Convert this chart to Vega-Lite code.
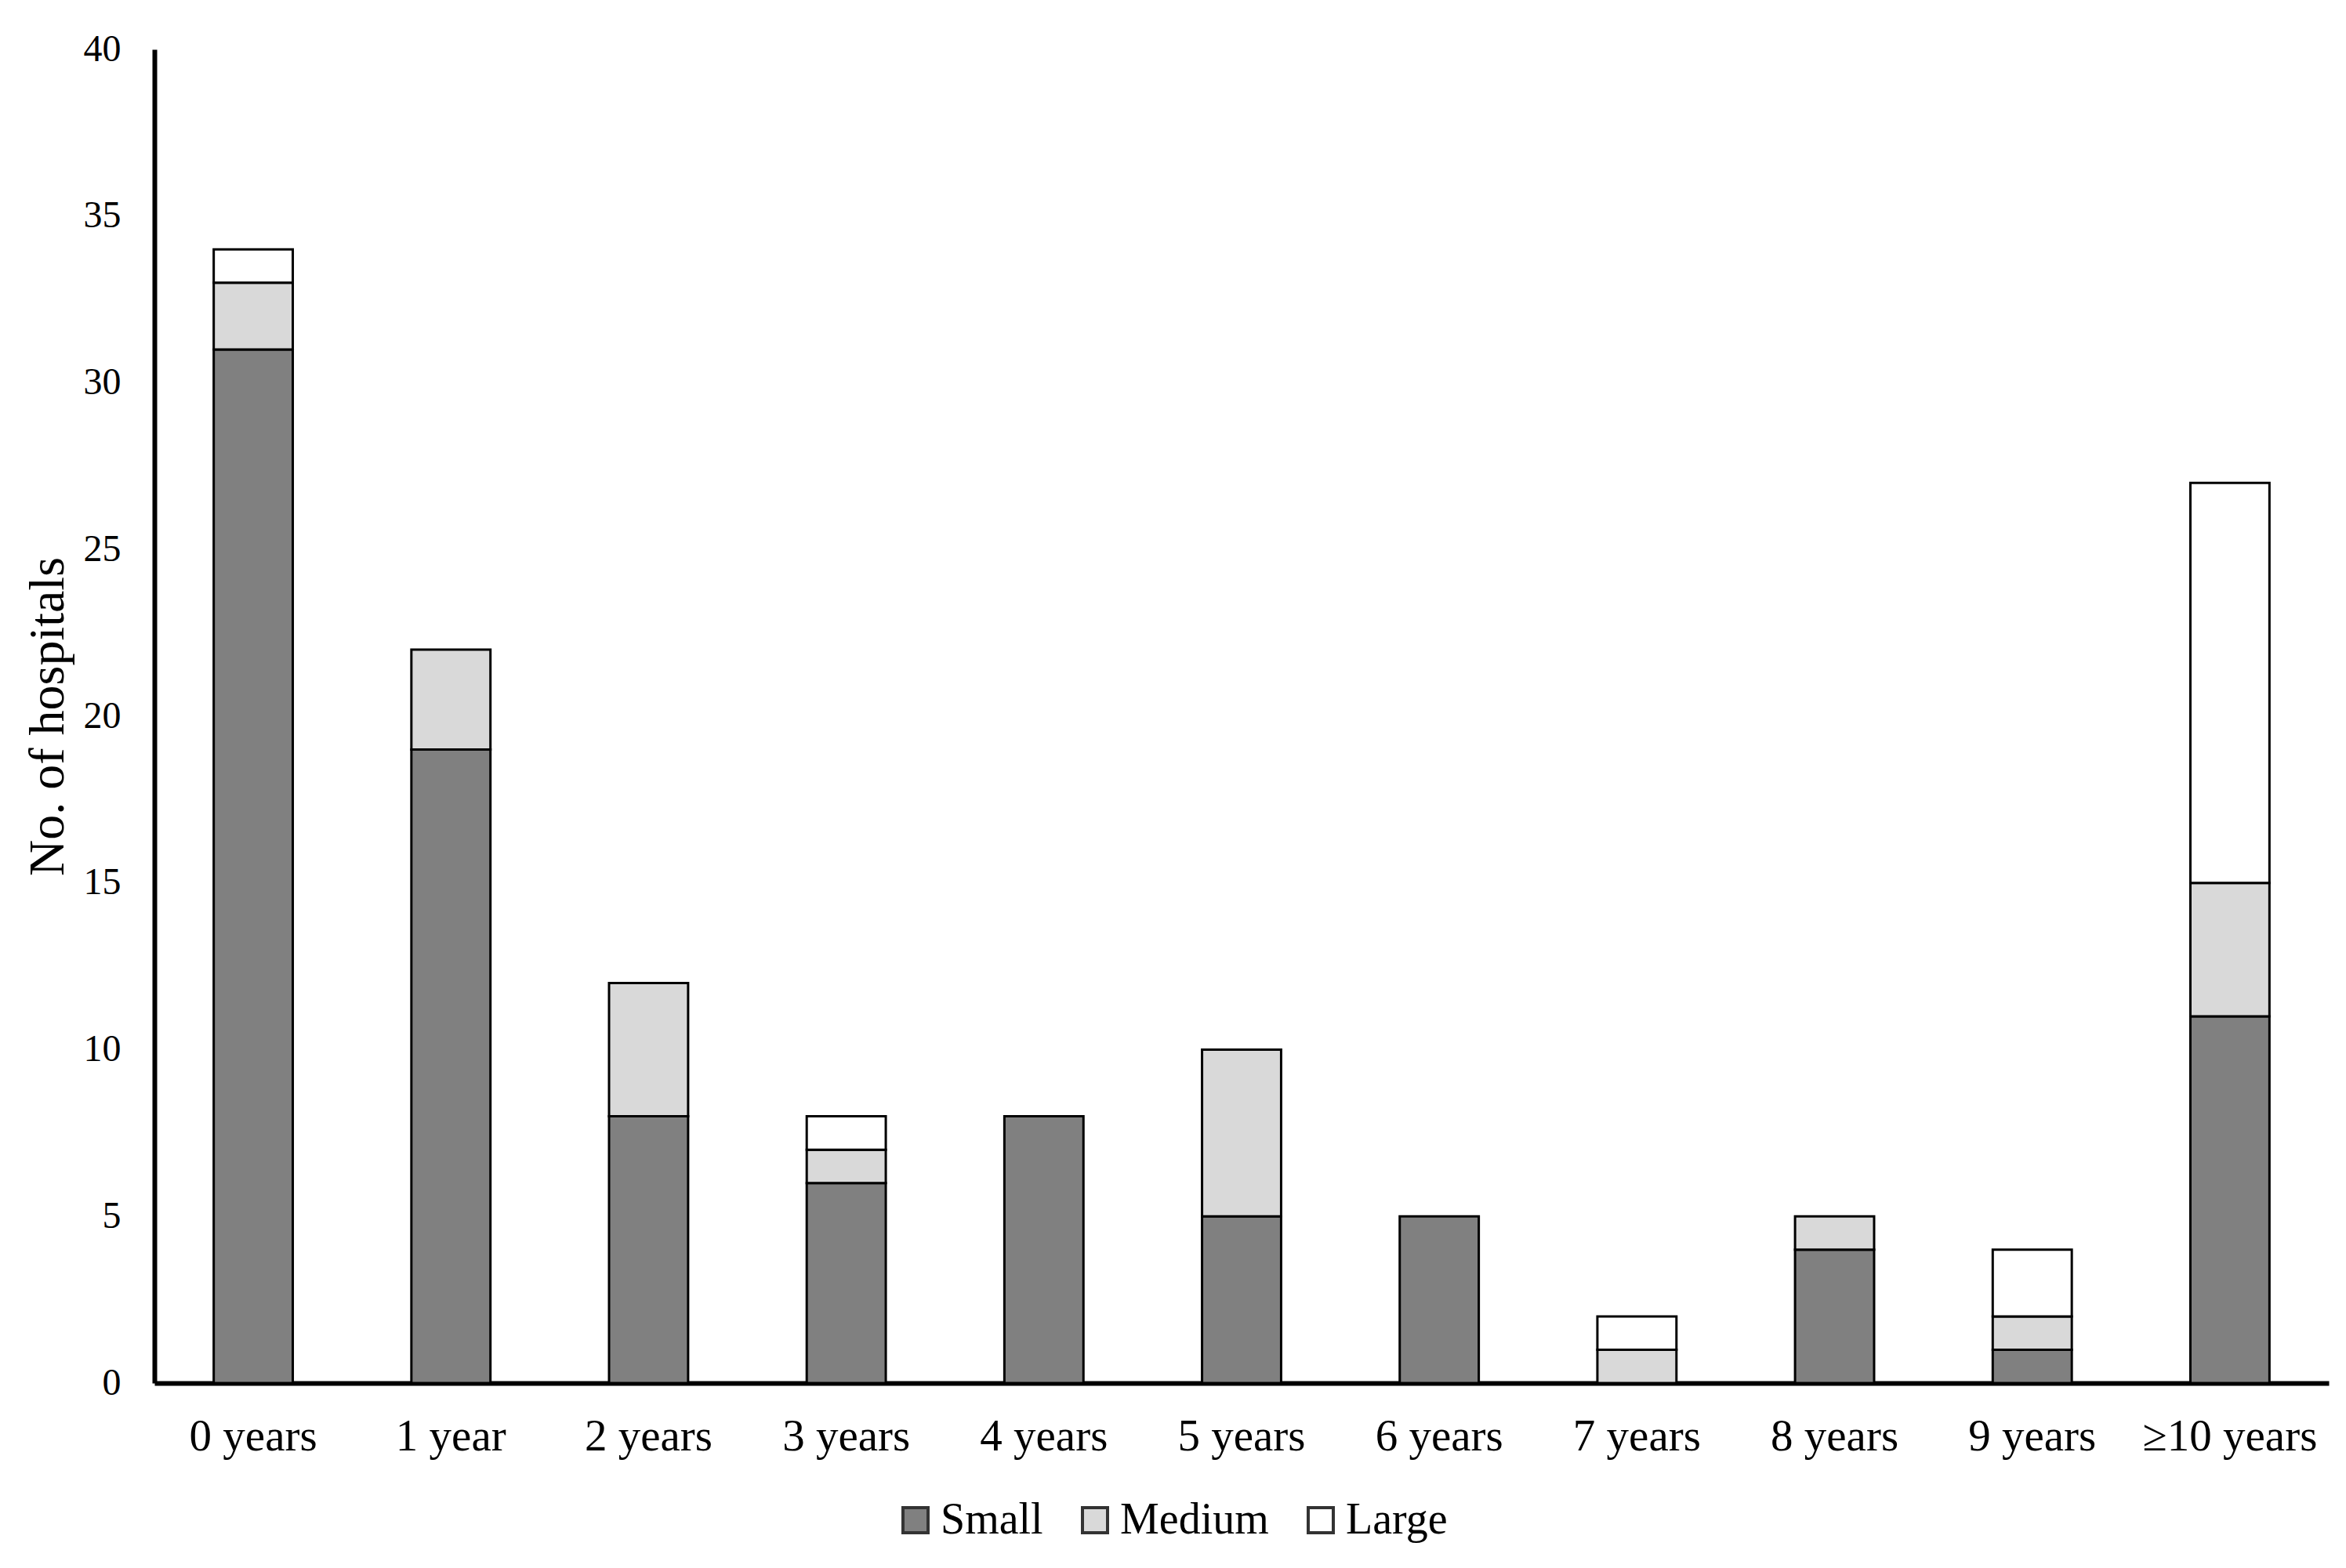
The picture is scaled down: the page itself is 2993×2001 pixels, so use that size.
{
  "$schema": "https://vega.github.io/schema/vega-lite/v6.json",
  "width": 2774,
  "height": 1702,
  "autosize": "none",
  "padding": {"left": 197, "top": 63, "right": 22, "bottom": 236},
  "background": "white",
  "config": {
    "font": "Liberation Serif",
    "view": {"stroke": null},
    "axis": {"labelFont": "Liberation Serif", "titleFont": "Liberation Serif", "labelColor": "#000", "titleColor": "#000", "grid": false, "ticks": false, "domainColor": "#000", "domainWidth": 6, "labelLimit": 0},
    "legend": {"labelFont": "Liberation Serif", "labelColor": "#000", "labelLimit": 0}
  },
  "data": {
    "values": [
      {"age": "0 years", "size": "Small", "n": 31},
      {"age": "0 years", "size": "Medium", "n": 2},
      {"age": "0 years", "size": "Large", "n": 1},
      {"age": "1 year", "size": "Small", "n": 19},
      {"age": "1 year", "size": "Medium", "n": 3},
      {"age": "2 years", "size": "Small", "n": 8},
      {"age": "2 years", "size": "Medium", "n": 4},
      {"age": "3 years", "size": "Small", "n": 6},
      {"age": "3 years", "size": "Medium", "n": 1},
      {"age": "3 years", "size": "Large", "n": 1},
      {"age": "4 years", "size": "Small", "n": 8},
      {"age": "5 years", "size": "Small", "n": 5},
      {"age": "5 years", "size": "Medium", "n": 5},
      {"age": "6 years", "size": "Small", "n": 5},
      {"age": "7 years", "size": "Medium", "n": 1},
      {"age": "7 years", "size": "Large", "n": 1},
      {"age": "8 years", "size": "Small", "n": 4},
      {"age": "8 years", "size": "Medium", "n": 1},
      {"age": "9 years", "size": "Small", "n": 1},
      {"age": "9 years", "size": "Medium", "n": 1},
      {"age": "9 years", "size": "Large", "n": 2},
      {"age": "≥10 years", "size": "Small", "n": 11},
      {"age": "≥10 years", "size": "Medium", "n": 4},
      {"age": "≥10 years", "size": "Large", "n": 12}
    ]
  },
  "mark": {"type": "bar", "stroke": "#000", "strokeWidth": 3},
  "encoding": {
    "x": {
      "field": "age",
      "type": "nominal",
      "sort": ["0 years", "1 year", "2 years", "3 years", "4 years", "5 years", "6 years", "7 years", "8 years", "9 years", "≥10 years"],
      "scale": {"paddingInner": 0.6, "paddingOuter": 0.3},
      "axis": {"title": null, "labelAngle": 0, "labelFontSize": 57, "labelPadding": 40, "labelLimit": 0}
    },
    "y": {
      "field": "n",
      "type": "quantitative",
      "stack": "zero",
      "scale": {"domain": [0, 40]},
      "axis": {"title": "No. of hospitals", "values": [0, 5, 10, 15, 20, 25, 30, 35, 40], "labelFontSize": 48, "labelPadding": 43, "titleFontSize": 64, "titleFontWeight": "normal", "titlePadding": 13}
    },
    "color": {
      "field": "size",
      "type": "nominal",
      "sort": ["Small", "Medium", "Large"],
      "scale": {"domain": ["Small", "Medium", "Large"], "range": ["#808080", "#d9d9d9", "#ffffff"]},
      "legend": {
        "title": null,
        "orient": "none",
        "direction": "horizontal",
        "legendX": 943,
        "legendY": 1849,
        "padding": 0,
        "labelFontSize": 56,
        "labelLimit": 0,
        "symbolType": "square",
        "symbolSize": 1024,
        "symbolStrokeColor": "#333333",
        "symbolStrokeWidth": 4,
        "symbolOpacity": 1,
        "labelOffset": 4,
        "columnPadding": 38
      }
    },
    "order": {"field": "size", "sort": "descending"}
  }
}
